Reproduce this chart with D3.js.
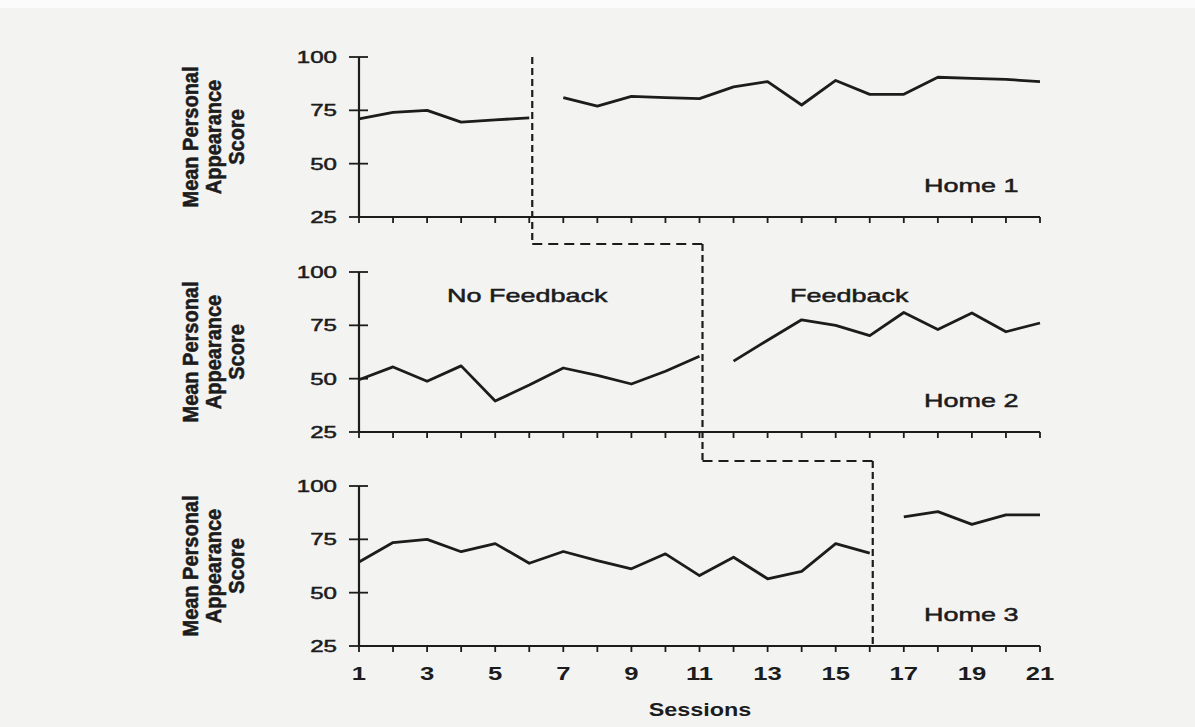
<!DOCTYPE html>
<html>
<head>
<meta charset="utf-8">
<script src="https://cdn.jsdelivr.net/npm/d3@7"></script>
<style>
  html, body { margin: 0; padding: 0; background: #f3f3f2; }
  svg { display: block; }
</style>
</head>
<body>
<svg id="chart" width="1195" height="727"></svg>
<script>
// Sessions on the shared x axis
const sessions = [1, 2, 3, 4, 5, 6, 7, 8, 9, 10, 11, 12, 13, 14, 15, 16, 17, 18, 19, 20, 21];
const sessionTickLabels = [1, 3, 5, 7, 9, 11, 13, 15, 17, 19, 21];
const scoreTicks = [25, 50, 75, 100];

// Homes and the last session before feedback starts in each
const homes = ["Home 1", "Home 2", "Home 3"];
const lastBaselineSession = [6, 11, 16];

// Mean personal appearance scores, per home and phase
const home1Baseline = [71, 74, 75, 69.5, 70.5, 71.5];
const home1Feedback = [81, 77, 81.5, 81, 80.5, 86, 88.5, 77.5, 89, 82.5, 82.5, 90.5, 90, 89.5, 88.5];
const home2Baseline = [49.5, 55.5, 48.8, 56, 39.5, 47, 55, 51.5, 47.5, 53.5, 60.5];
const home2Feedback = [58.2, 68, 77.6, 75, 70.2, 81, 73, 80.8, 72, 76.1];
const home3Baseline = [64.4, 73.5, 75, 69.2, 73, 63.8, 69.3, 65, 61.2, 68.2, 58, 66.6, 56.5, 60, 73, 68.5];
const home3Feedback = [85.5, 88, 82, 86.5, 86.5];

const baselineSeries = [home1Baseline, home2Baseline, home3Baseline];
const feedbackSeries = [home1Feedback, home2Feedback, home3Feedback];

const svg = d3.select("#chart");
const ink = "#1c1c1c";
const sansFont = "'Liberation Sans', Arial, Helvetica, sans-serif";
const stretch = 1.42;   // wide typeface look

svg.append("rect").attr("width", 1195).attr("height", 727).attr("fill", "#f3f3f2");
svg.append("rect").attr("width", 1195).attr("height", 8).attr("fill", "#fbfbfb");

const x = d3.scaleLinear().domain([1, 21]).range([359, 1040]);
const panelBottoms = [217, 432, 646];
const panelHeight = 160;

const yScales = panelBottoms.map(b =>
  d3.scaleLinear().domain([25, 100]).range([b, b - panelHeight]));

const line = (y, startSession) => d3.line()
  .x((d, i) => x(sessions[startSession - 1 + i]))
  .y(d => y(d));

// thin outline thickens glyphs a little, like heavy print
const heavy = sel => sel.attr("stroke", ink).attr("stroke-width", 0.5);

homes.forEach((home, p) => {
  const y = yScales[p];
  const g = svg.append("g");

  // y axis: vertical line plus ticks crossing it
  g.append("line")
    .attr("x1", x(1)).attr("x2", x(1))
    .attr("y1", y(100)).attr("y2", y(25))
    .attr("stroke", ink).attr("stroke-width", 2.2);
  g.selectAll(".ytick").data(scoreTicks).join("line")
    .attr("x1", x(1) - 10).attr("x2", x(1) + 9)
    .attr("y1", d => y(d)).attr("y2", d => y(d))
    .attr("stroke", ink).attr("stroke-width", 1.8);
  g.selectAll(".ylab").data(scoreTicks).join("text")
    .attr("transform", d => `translate(337,${y(d)}) scale(${stretch},1)`)
    .attr("dy", "0.36em")
    .attr("text-anchor", "end")
    .attr("font-family", sansFont)
    .attr("font-size", 17)
    .attr("fill", ink)
    .call(heavy)
    .text(d => d);

  // x axis: baseline plus session ticks
  g.append("line")
    .attr("x1", x(1)).attr("x2", x(21))
    .attr("y1", y(25)).attr("y2", y(25))
    .attr("stroke", ink).attr("stroke-width", 2.2);
  g.selectAll(".xtick").data(sessions).join("line")
    .attr("x1", d => x(d)).attr("x2", d => x(d))
    .attr("y1", y(25)).attr("y2", y(25) + 6)
    .attr("stroke", ink).attr("stroke-width", 1.8);

  // y axis title, three stacked rotated lines
  const mid = (y(25) + y(100)) / 2;
  [["Mean Personal", 198], ["Appearance", 221], ["Score", 244]].forEach(([t, bx]) => {
    g.append("text")
      .attr("transform", `translate(${bx},${mid}) rotate(-90) scale(1,1.08)`)
      .attr("text-anchor", "middle")
      .attr("font-family", sansFont)
      .attr("font-weight", "bold")
      .attr("font-size", 20)
      .attr("fill", ink)
      .call(heavy)
      .text(t);
  });

  // baseline phase and feedback phase lines
  g.append("path")
    .attr("d", line(y, 1)(baselineSeries[p]))
    .attr("fill", "none").attr("stroke", ink)
    .attr("stroke-width", 2.8).attr("stroke-linejoin", "round");
  g.append("path")
    .attr("d", line(y, lastBaselineSession[p] + 1)(feedbackSeries[p]))
    .attr("fill", "none").attr("stroke", ink)
    .attr("stroke-width", 2.8).attr("stroke-linejoin", "round");

  // home label
  g.append("text")
    .attr("transform", `translate(924,${y(25) - 25}) scale(${stretch},1)`)
    .attr("font-family", sansFont)
    .attr("font-size", 19)
    .attr("fill", ink)
    .call(heavy)
    .text(home);
});

// Phase labels in the middle panel
const y2 = yScales[1];
[["No Feedback", 447], ["Feedback", 790]].forEach(([t, lx]) => {
  svg.append("text")
    .attr("transform", `translate(${lx},${y2(100) + 30}) scale(${stretch},1)`)
    .attr("font-family", sansFont)
    .attr("font-size", 19)
    .attr("fill", ink)
    .call(heavy)
    .text(t);
});

// Staircase dashed phase-change line
const shift = 3;
const stepY = [yScales[0](25) + 27, yScales[1](25) + 29];
const vSegs = [
  [x(lastBaselineSession[0]) + shift, yScales[0](100), stepY[0]],
  [x(lastBaselineSession[1]) + shift, stepY[0], stepY[1]],
  [x(lastBaselineSession[2]) + shift, stepY[1], yScales[2](25)]
];
const hSegs = [
  [stepY[0], x(lastBaselineSession[0]) + shift, x(lastBaselineSession[1]) + shift],
  [stepY[1], x(lastBaselineSession[1]) + shift, x(lastBaselineSession[2]) + shift]
];
svg.selectAll(".vdash").data(vSegs).join("line")
  .attr("x1", d => d[0]).attr("x2", d => d[0])
  .attr("y1", d => d[1]).attr("y2", d => d[2])
  .attr("stroke", ink).attr("stroke-width", 2.2)
  .attr("stroke-dasharray", "7,4");
svg.selectAll(".hdash").data(hSegs).join("line")
  .attr("y1", d => d[0]).attr("y2", d => d[0])
  .attr("x1", d => d[1]).attr("x2", d => d[2])
  .attr("stroke", ink).attr("stroke-width", 2.2)
  .attr("stroke-dasharray", "10,6");

// Session tick labels and axis title on the bottom panel
const y3 = yScales[2];
svg.selectAll(".xlab").data(sessionTickLabels).join("text")
  .attr("transform", d => `translate(${x(d)},${y3(25) + 34}) scale(1.35,1)`)
  .attr("text-anchor", "middle")
  .attr("font-family", sansFont)
  .attr("font-weight", "bold")
  .attr("font-size", 19)
  .attr("fill", ink)
  .text(d => d);

svg.append("text")
  .attr("transform", `translate(700,${y3(25) + 70}) scale(1.3,1)`)
  .attr("text-anchor", "middle")
  .attr("font-family", sansFont)
  .attr("font-weight", "bold")
  .attr("font-size", 18)
  .attr("fill", ink)
  .text("Sessions");
</script>
</body>
</html>
